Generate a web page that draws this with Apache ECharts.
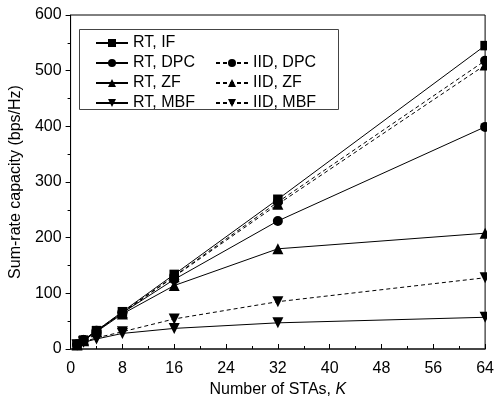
<!DOCTYPE html>
<html>
<head>
<meta charset="utf-8">
<script src="https://cdn.jsdelivr.net/npm/echarts@6/dist/echarts.min.js"></script>
<style>
  html, body { margin: 0; padding: 0; background: #fff; }
  #chart { width: 497px; height: 404px; }
</style>
</head>
<body>
<div id="chart"></div>
<script>
// Number of stations K
const stations = [1, 2, 4, 8, 16, 32, 64];

// Sum-rate capacity (bps/Hz), real-trace channels
const rtIF  = [8, 16, 33, 67, 134, 269, 545];
const rtDPC = [8, 16, 32, 65, 125, 230, 399];
const rtZF  = [7, 15, 31, 63, 114, 180, 208];
const rtMBF = [7, 12, 18, 28, 37, 47, 57];

// Sum-rate capacity (bps/Hz), i.i.d. channels
const iidDPC = [8, 16, 33, 66, 131, 264, 518];
const iidZF  = [8, 16, 32, 65, 130, 260, 510];
const iidMBF = [7, 13, 20, 31, 54, 85, 128];

const xTicks = [0, 8, 16, 24, 32, 40, 48, 56, 64];
const yTicks = [0, 100, 200, 300, 400, 500, 600];

const FONT = 'Liberation Sans, Arial, sans-serif';

function pairs(values) {
  return stations.map((k, i) => [k, values[i]]);
}

function makeSeries(name, values, symbol, dashed, rotate) {
  return {
    name: name,
    type: 'line',
    data: pairs(values),
    symbol: symbol,
    symbolSize: symbol === 'rect' ? 9.5 : (symbol === 'circle' ? 10 : 11),
    symbolRotate: rotate || 0,
    showSymbol: true,
    clip: false,
    itemStyle: { color: '#000', borderWidth: 0 },
    lineStyle: { color: '#000', width: 1, type: dashed ? [4, 3] : 'solid' },
    emphasis: { disabled: true },
    animation: false,
    z: 3
  };
}

const chart = echarts.init(document.getElementById('chart'), null, { renderer: 'canvas' });

const legendText = { fontFamily: FONT, fontSize: 16, color: '#000', lineHeight: 20 };

chart.setOption({
  backgroundColor: '#fff',
  animation: false,
  grid: {
    left: 70, right: 11, top: 15, bottom: 55,
    show: true, borderColor: '#000', borderWidth: 1, backgroundColor: 'transparent'
  },
  xAxis: {
    type: 'value',
    min: xTicks[0], max: xTicks[xTicks.length - 1], interval: 8,
    name: 'Number of STAs, {i|K}',
    nameLocation: 'middle', nameGap: 31,
    nameTextStyle: {
      fontFamily: FONT, fontSize: 16, color: '#000',
      rich: { i: { fontFamily: FONT, fontSize: 16, fontStyle: 'italic', color: '#000' } }
    },
    axisLine: { show: true, lineStyle: { color: '#333', width: 1.5 } },
    axisTick: { show: true, inside: true, length: 5, lineStyle: { color: '#000' } },
    minorTick: { show: true, splitNumber: 2, length: 3, lineStyle: { color: '#000' } },
    axisLabel: { fontFamily: FONT, fontSize: 16, color: '#000', margin: 12 },
    splitLine: { show: false }
  },
  yAxis: {
    type: 'value',
    min: yTicks[0], max: yTicks[yTicks.length - 1], interval: 100,
    name: 'Sum-rate capacity (bps/Hz)',
    nameLocation: 'middle', nameGap: 46, nameRotate: 90,
    nameTextStyle: { fontFamily: FONT, fontSize: 16, color: '#000' },
    axisLine: { show: true, lineStyle: { color: '#000', width: 1 } },
    axisTick: { show: true, inside: false, length: 5, lineStyle: { color: '#000' } },
    minorTick: { show: true, splitNumber: 2, length: 3, lineStyle: { color: '#000' } },
    axisLabel: { fontFamily: FONT, fontSize: 16, color: '#000', margin: 9 },
    splitLine: { show: false }
  },
  legend: [
    {
      data: ['RT, IF', 'RT, DPC', 'RT, ZF', 'RT, MBF'],
      orient: 'vertical', left: 95, top: 33, padding: 0,
      itemWidth: 32, itemHeight: 10, itemGap: 0,
      textStyle: legendText, selectedMode: false
    },
    {
      data: ['IID, DPC', 'IID, ZF', 'IID, MBF'],
      orient: 'vertical', left: 215, top: 53, padding: 0,
      itemWidth: 32, itemHeight: 10, itemGap: 0,
      textStyle: legendText, selectedMode: false
    }
  ],
  graphic: [
    // legend frame
    {
      type: 'rect', z: 10, silent: true,
      shape: { x: 79.5, y: 29.5, width: 259, height: 80 },
      style: { fill: 'none', stroke: '#444', lineWidth: 1 }
    },
    // hide the marker halves that fall right of the plot frame
    {
      type: 'rect', z: 100, silent: true,
      shape: { x: 487, y: 0, width: 10, height: 345 },
      style: { fill: '#fff' }
    }
  ],
  series: [
    makeSeries('RT, IF', rtIF, 'rect', false),
    makeSeries('RT, DPC', rtDPC, 'circle', false),
    makeSeries('RT, ZF', rtZF, 'triangle', false),
    makeSeries('RT, MBF', rtMBF, 'triangle', false, 180),
    makeSeries('IID, DPC', iidDPC, 'circle', true),
    makeSeries('IID, ZF', iidZF, 'triangle', true),
    makeSeries('IID, MBF', iidMBF, 'triangle', true, 180)
  ]
});
</script>
</body>
</html>
